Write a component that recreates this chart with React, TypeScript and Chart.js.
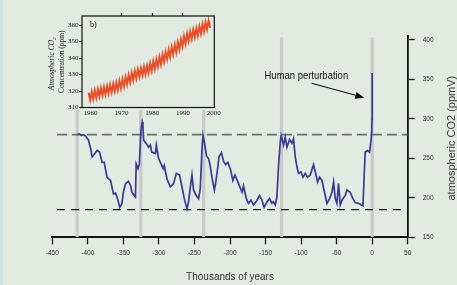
import React, { useEffect, useRef } from 'react';
import { Chart, registerables } from 'chart.js';

Chart.register(...registerables);

// ---------- Main record: Vostok ice core CO2 (age in thousands of years, ppmV) ----------
const VOSTOK_AGE_KYR = [
  -415, -412, -409, -406, -403, -399, -396, -394, -392, -387,
  -383.5, -380, -377, -373, -368, -364, -361, -359, -355, -352,
  -350, -347, -343, -340, -338, -333, -332, -329.5, -327.5, -326,
  -325, -323.5, -322.5, -321.5, -318, -314.5, -312, -310, -305, -303.7,
  -300.5, -298, -294, -292.5, -288.7, -284, -279.4, -275.6, -271, -267.6,
  -264.3, -260.5, -258.3, -256, -253.5, -251.3, -247.5, -244.2, -241.8, -239.4,
  -238, -236, -233, -230, -228, -225, -222, -220, -217, -215.5,
  -212, -209, -206, -203, -199, -196, -193, -188, -183, -181,
  -177, -174, -170.5, -167, -162, -158.4, -155, -152, -148, -144.4,
  -141, -139, -136.4, -134, -131.7, -129.3, -128, -124.6, -122.3, -119.9,
  -116.2, -112.9, -110.6, -108.2, -105.8, -103.6, -100.2, -97.4, -94.2, -90.9,
  -87.1, -82.5, -80.1, -76.8, -74, -70.7, -66, -63.6, -59.9, -56.6,
  -54.3, -51.9, -49.6, -47.3, -44.9, -42.5, -37.9, -35.5, -30.9, -27.1,
  -23.8, -19.1, -15.3, -12.9, -11.2, -9.8, -6.5, -3.7, -1.8, -0.6,
  -0.2, 0,
];
const VOSTOK_CO2_PPMV = [
  280, 281, 279, 280, 278, 273, 262, 252, 254, 260,
  258, 245, 245, 226, 222, 205, 206, 201, 188, 193,
  207, 218, 221, 216, 207, 201, 243, 237, 243, 273,
  288, 296, 292, 273, 269, 264, 267, 258, 256, 267,
  250, 245, 237, 241, 224, 214, 218, 231, 229, 214,
  199, 186, 195, 212, 229, 210, 203, 199, 212, 262,
  279, 270, 253, 249, 241, 224, 210, 220, 240, 252,
  257, 246, 242, 245, 235, 222, 229, 218, 207, 215,
  199, 193, 197, 191, 197, 203, 197, 188, 195, 199,
  193, 195, 191, 201, 241, 271, 279, 267, 277, 264,
  274, 269, 275, 252, 239, 231, 233, 226, 231, 226,
  229, 242, 233, 220, 226, 222, 203, 193, 199, 207,
  220, 199, 193, 218, 191, 197, 203, 210, 207, 199,
  194, 193, 191, 190, 229, 258, 260, 258, 271, 285,
  300, 358,
];

// grey vertical bands (terminations), ppm range they span
const TERMINATIONS_KYR = [-415, -325.5, -237, -127.5, 0];
const BAND_PPM = [150, 403];

// dashed reference levels
const UPPER_LEVEL_PPM = 280;
const LOWER_LEVEL_PPM = 185;
const LEVEL_SPAN_KYR = [-443.5, 50];

const X_TICKS = [-450, -400, -350, -300, -250, -200, -150, -100, -50, 0, 50];
const Y_TICKS = [150, 200, 250, 300, 350, 400];

// annotation anchor points (kyr, ppm)
const NOTE_TEXT = 'Human perturbation';
const NOTE_AT = [-92.6, 354.8];
const ARROW_TAIL = [-85.1, 345.2];
const ARROW_TIP = [-11.1, 326.9];

// ---------- Inset: Mauna Loa (b) ----------
const ML_YEARS = [
  1959, 1960, 1961, 1962, 1963, 1964, 1965, 1966, 1967, 1968,
  1969, 1970, 1971, 1972, 1973, 1974, 1975, 1976, 1977, 1978,
  1979, 1980, 1981, 1982, 1983, 1984, 1985, 1986, 1987, 1988,
  1989, 1990, 1991, 1992, 1993, 1994, 1995, 1996, 1997, 1998,
];
const ML_PEAK = [
  319.0, 319.5, 320.4, 321.1, 321.8, 322.4, 323.0, 323.7, 324.3, 325.0,
  326.1, 327.2, 328.4, 329.7, 331.0, 332.2, 333.1, 333.9, 334.6, 335.4,
  336.7, 338.0, 339.2, 340.6, 342.1, 343.6, 345.1, 346.6, 348.1, 349.6,
  351.4, 353.2, 354.8, 356.0, 357.1, 358.0, 359.2, 360.5, 361.7, 362.7,
];
const ML_TROUGH = [
  314.6, 315.1, 316.0, 316.7, 317.4, 318.0, 318.6, 319.3, 319.9, 320.6,
  321.7, 322.8, 324.0, 325.3, 326.6, 327.8, 328.7, 329.5, 330.2, 331.0,
  332.3, 333.6, 334.8, 336.2, 337.7, 339.2, 340.7, 342.2, 343.7, 345.2,
  347.0, 348.8, 350.4, 351.6, 352.7, 353.6, 354.8, 356.1, 357.3, 358.3,
];
const INSET_X_TICKS = [1960, 1970, 1980, 1990, 2000];
const INSET_TOP_TICKS = [1970, 1980, 1990];
const INSET_Y_TICKS = [310, 320, 330, 340, 350, 360];

const BG = '#e2eae2';
const SANS = "'Liberation Sans', 'DejaVu Sans', sans-serif";
const SERIF = "'Liberation Serif', 'DejaVu Serif', serif";

export default function App() {
  const mainRef = useRef<HTMLCanvasElement>(null);
  const insetRef = useRef<HTMLCanvasElement>(null);

  useEffect(() => {
    const vostok = VOSTOK_AGE_KYR.map((t, i) => ({ x: t, y: VOSTOK_CO2_PPMV[i] }));
    const bands = TERMINATIONS_KYR.flatMap((t) => [
      { x: t, y: BAND_PPM[0] },
      { x: t, y: BAND_PPM[1] },
      { x: t, y: null as any },
    ]);

    const yTitlePlugin = {
      id: 'yTitle',
      afterDraw(chart: any) {
        const { ctx, chartArea } = chart;
        ctx.save();
        ctx.translate(chart.width - 5.5, (chartArea.top + chartArea.bottom) / 2 + 1.5);
        ctx.rotate(-Math.PI / 2);
        ctx.font = `11px ${SANS}`;
        ctx.fillStyle = '#3a3a3a';
        ctx.textAlign = 'center';
        ctx.textBaseline = 'middle';
        ctx.fillText('atmospheric CO2 (ppmV)', 0, 0);
        ctx.restore();
      },
    };

    const notePlugin = {
      id: 'note',
      afterDatasetsDraw(chart: any) {
        const { ctx } = chart;
        const xs = chart.scales.x;
        const ys = chart.scales.y;
        const px = (p: number[]) => [xs.getPixelForValue(p[0]), ys.getPixelForValue(p[1])];
        const [tx, ty] = px(NOTE_AT);
        const [ax, ay] = px(ARROW_TAIL);
        const [bx, by] = px(ARROW_TIP);
        ctx.save();
        ctx.translate(tx, ty);
        ctx.scale(0.86, 1);
        ctx.font = `11px ${SANS}`;
        ctx.fillStyle = '#111';
        ctx.textAlign = 'center';
        ctx.textBaseline = 'middle';
        ctx.fillText(NOTE_TEXT, 0, 0);
        ctx.restore();
        ctx.save();
        const ang = Math.atan2(by - ay, bx - ax);
        const hl = 9;
        const hw = 3.5;
        const baseX = bx - hl * Math.cos(ang);
        const baseY = by - hl * Math.sin(ang);
        ctx.strokeStyle = '#111';
        ctx.lineWidth = 1.2;
        ctx.beginPath();
        ctx.moveTo(ax, ay);
        ctx.lineTo(baseX, baseY);
        ctx.stroke();
        ctx.beginPath();
        ctx.moveTo(bx, by);
        ctx.lineTo(baseX + hw * Math.sin(ang), baseY - hw * Math.cos(ang));
        ctx.lineTo(baseX - hw * Math.sin(ang), baseY + hw * Math.cos(ang));
        ctx.closePath();
        ctx.fillStyle = '#111';
        ctx.fill();
        ctx.restore();
      },
    };

    const main = new Chart(mainRef.current!, {
      type: 'line',
      data: {
        datasets: [
          {
            label: 'Vostok CO2',
            data: vostok,
            borderColor: '#3b3a94',
            borderWidth: 1.7,
            pointRadius: 0,
            tension: 0,
            order: 1,
          },
          {
            label: 'upper level',
            data: LEVEL_SPAN_KYR.map((t) => ({ x: t, y: UPPER_LEVEL_PPM })),
            borderColor: '#6e6e6e',
            borderWidth: 1.7,
            borderDash: [10, 5],
            pointRadius: 0,
            order: 2,
          },
          {
            label: 'lower level',
            data: LEVEL_SPAN_KYR.map((t) => ({ x: t, y: LOWER_LEVEL_PPM })),
            borderColor: '#1a1a1a',
            borderWidth: 1.3,
            borderDash: [8, 6],
            pointRadius: 0,
            order: 3,
          },
          {
            label: 'terminations',
            data: bands,
            borderColor: '#c9c9c9',
            borderWidth: 3.2,
            pointRadius: 0,
            spanGaps: false,
            order: 4,
          },
        ],
      },
      options: {
        animation: false,
        responsive: false,
        maintainAspectRatio: false,
        devicePixelRatio: 1,
        layout: { padding: { left: 52.3, top: 36, right: 0, bottom: 0 } },
        plugins: { legend: { display: false }, tooltip: { enabled: false } },
        scales: {
          x: {
            type: 'linear',
            position: 'bottom',
            min: -450,
            max: 50,
            z: 1,
            afterBuildTicks: (s: any) => {
              s.ticks = X_TICKS.map((v) => ({ value: v }));
            },
            afterFit: (s: any) => {
              s.height = 47.7;
              s.paddingLeft = 0;
              s.paddingRight = 0;
            },
            grid: {
              drawOnChartArea: false,
              drawTicks: true,
              tickLength: 7,
              tickColor: '#111',
              tickWidth: 1.3,
            },
            border: { display: true, color: '#111', width: 2 },
            ticks: {
              font: { family: SANS, size: 6.5 },
              color: '#333',
              padding: 5,
              maxRotation: 0,
              autoSkip: false,
              callback: (v: any) => String(v),
            },
            title: {
              display: true,
              text: 'Thousands of years',
              font: { family: SANS, size: 10 },
              color: '#333',
              padding: { top: 0, bottom: 2 },
            },
          },
          y: {
            type: 'linear',
            position: 'right',
            min: 150,
            max: 405,
            z: 1,
            afterBuildTicks: (s: any) => {
              s.ticks = Y_TICKS.map((v) => ({ value: v }));
            },
            afterFit: (s: any) => {
              s.width = 49.3;
              s.paddingTop = 0;
              s.paddingBottom = 0;
            },
            grid: {
              drawOnChartArea: false,
              drawTicks: true,
              tickLength: 7,
              tickColor: '#111',
              tickWidth: 1.3,
            },
            border: { display: true, color: '#111', width: 1.8 },
            ticks: {
              font: { family: SANS, size: 6.5 },
              color: '#333',
              padding: 8,
              callback: (v: any) => String(v),
            },
          },
        },
      },
      plugins: [yTitlePlugin, notePlugin],
    } as any);

    const ml = ML_YEARS.flatMap((yr, i) => [
      { x: yr + 0.35, y: ML_PEAK[i] },
      { x: yr + 0.85, y: ML_TROUGH[i] },
    ]);

    const insetDeco = {
      id: 'insetDeco',
      beforeDraw(chart: any) {
        const { ctx } = chart;
        ctx.save();
        ctx.fillStyle = BG;
        ctx.fillRect(0, 0, chart.width, 104);
        ctx.restore();
      },
      afterDraw(chart: any) {
        const { ctx, chartArea } = chart;
        ctx.save();
        ctx.strokeStyle = '#111';
        ctx.lineWidth = 1.2;
        ctx.strokeRect(chartArea.left, chartArea.top, chartArea.right - chartArea.left, chartArea.bottom - chartArea.top);
        ctx.font = `8px ${SERIF}`;
        ctx.fillStyle = '#111';
        ctx.textAlign = 'left';
        ctx.textBaseline = 'middle';
        ctx.fillText('b)', chartArea.left + 8, chartArea.top + 9);
        // axis title, two lines rotated
        const cy = (chartArea.top + chartArea.bottom) / 2;
        ctx.fillStyle = '#222';
        ctx.textAlign = 'center';
        ctx.save();
        ctx.translate(12, cy + 2);
        ctx.rotate(-Math.PI / 2);
        ctx.font = `italic 7.5px ${SERIF}`;
        ctx.fillText('Atmospheric CO\u2082', 0, 0);
        ctx.restore();
        ctx.save();
        ctx.translate(22, cy);
        ctx.rotate(-Math.PI / 2);
        ctx.font = `7.5px ${SERIF}`;
        ctx.fillText('Concentration (ppm)', 0, 0);
        ctx.restore();
        ctx.restore();
      },
    };

    const inset = new Chart(insetRef.current!, {
      type: 'line',
      data: {
        datasets: [
          {
            label: 'Mauna Loa',
            data: ml,
            borderColor: '#e8502a',
            borderWidth: 2,
            pointRadius: 0,
            tension: 0,
          },
        ],
      },
      options: {
        animation: false,
        responsive: false,
        maintainAspectRatio: false,
        devicePixelRatio: 1,
        layout: { padding: { left: 0, top: 0, right: 9.7, bottom: 0 } },
        plugins: { legend: { display: false }, tooltip: { enabled: false } },
        scales: {
          x: {
            type: 'linear',
            position: 'bottom',
            min: 1957.2,
            max: 2000.2,
            afterBuildTicks: (s: any) => {
              s.ticks = INSET_X_TICKS.map((v) => ({ value: v }));
            },
            afterFit: (s: any) => {
              s.height = 12.5;
              s.paddingLeft = 0;
              s.paddingRight = 0;
            },
            grid: { drawOnChartArea: false, drawTicks: false },
            border: { display: false },
            ticks: {
              font: { family: SERIF, size: 7 },
              color: '#222',
              padding: 1,
              maxRotation: 0,
              autoSkip: false,
              callback: (v: any) => String(v),
            },
          },
          x2: {
            type: 'linear',
            position: 'top',
            min: 1957.2,
            max: 2000.2,
            afterBuildTicks: (s: any) => {
              s.ticks = INSET_TOP_TICKS.map((v) => ({ value: v }));
            },
            afterFit: (s: any) => {
              s.height = 10;
              s.paddingLeft = 0;
              s.paddingRight = 0;
            },
            grid: { drawOnChartArea: false, drawTicks: true, tickLength: 3, tickColor: '#111', tickWidth: 1.2 },
            border: { display: false },
            ticks: { display: false },
          },
          y: {
            type: 'linear',
            position: 'left',
            min: 310,
            max: 365.5,
            afterBuildTicks: (s: any) => {
              s.ticks = INSET_Y_TICKS.map((v) => ({ value: v }));
            },
            afterFit: (s: any) => {
              s.width = 42;
              s.paddingTop = 0;
              s.paddingBottom = 0;
            },
            grid: { drawOnChartArea: false, drawTicks: true, tickLength: 3, tickColor: '#111', tickWidth: 1.2 },
            border: { display: false },
            ticks: {
              font: { family: SERIF, size: 7 },
              color: '#222',
              padding: 0.5,
              callback: (v: any) => String(v),
            },
          },
        },
      },
      plugins: [insetDeco],
    } as any);

    return () => {
      main.destroy();
      inset.destroy();
    };
  }, []);

  return (
    <div
      style={{
        position: 'absolute',
        left: 0,
        top: 0,
        width: 457,
        height: 285,
        background: BG,
        overflow: 'hidden',
      }}
    >
      <div style={{ position: 'absolute', left: 0, top: 0, width: 3, height: 285, background: '#cde4e8' }} />
      <canvas
        ref={mainRef}
        width={457}
        height={285}
        style={{ position: 'absolute', left: 0, top: 0, width: 457, height: 285 }}
      />
      <canvas
        ref={insetRef}
        width={184}
        height={114}
        style={{ position: 'absolute', left: 40, top: 6, width: 184, height: 114 }}
      />
    </div>
  );
}
